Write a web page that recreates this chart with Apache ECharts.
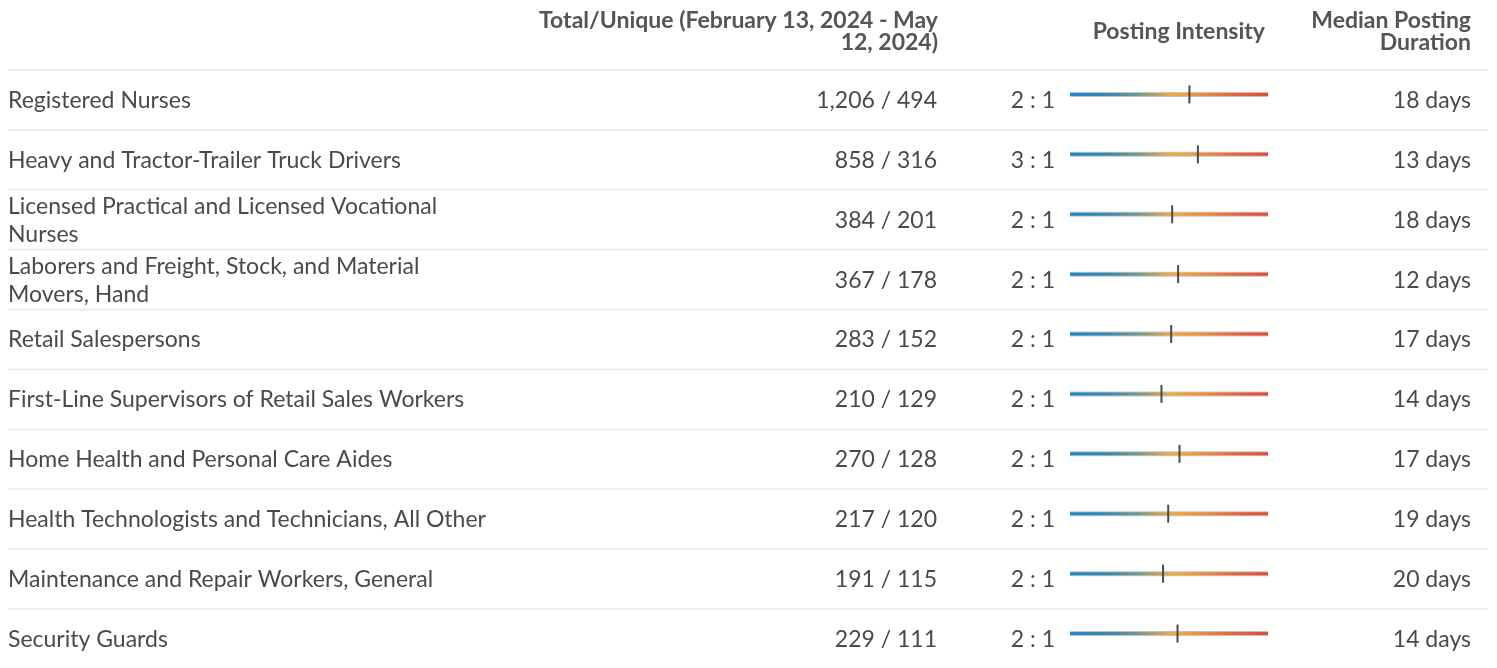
<!DOCTYPE html>
<html><head><meta charset="utf-8">
<script src="https://cdn.jsdelivr.net/npm/echarts@6/dist/echarts.min.js"></script>
<style>html,body{margin:0;padding:0;background:#fff}#c{width:1497px;height:668px}</style>
</head><body><div id="c"></div>
<script>
const occupations = [
  'Registered Nurses',
  'Heavy and Tractor-Trailer Truck Drivers',
  'Licensed Practical and Licensed Vocational Nurses',
  'Laborers and Freight, Stock, and Material Movers, Hand',
  'Retail Salespersons',
  'First-Line Supervisors of Retail Sales Workers',
  'Home Health and Personal Care Aides',
  'Health Technologists and Technicians, All Other',
  'Maintenance and Repair Workers, General',
  'Security Guards'
];
const totalPostings = [1206, 858, 384, 367, 283, 210, 270, 217, 191, 229];
const uniquePostings = [494, 316, 201, 178, 152, 129, 128, 120, 115, 111];
const intensityLabels = ['2 : 1', '3 : 1', '2 : 1', '2 : 1', '2 : 1', '2 : 1', '2 : 1', '2 : 1', '2 : 1', '2 : 1'];
const intensityMarker = [60.3, 64.6, 51.6, 54.6, 51.1, 46.2, 55.3, 49.6, 47.0, 54.3];
const medianDurationDays = [18, 13, 18, 12, 17, 14, 17, 19, 20, 14];
const headers = ['Total/Unique (February 13, 2024 - May\n12, 2024)', 'Posting Intensity', 'Median Posting\nDuration'];

const FONT = 'Lato, "Noto Sans", sans-serif';
const TXT = '#4a4a4a';
const chart = echarts.init(document.getElementById('c'), null, {renderer: 'canvas'});
const fmt = n => n.toLocaleString('en-US');

const grad = () => new echarts.graphic.LinearGradient(0, 0, 1, 0, [
  {offset: 0, color: '#1a88cc'},
  {offset: 0.2, color: '#3589b4'},
  {offset: 0.35, color: '#779a86'},
  {offset: 0.52, color: '#f5ab3a'},
  {offset: 0.68, color: '#f08a3a'},
  {offset: 0.85, color: '#e8603a'},
  {offset: 1, color: '#e04c38'}
]);

function renderItem(params, api) {
  const i = params.dataIndex;
  const l = api.coord([0, i]);
  const r = api.coord([100, i]);
  const m = api.coord([api.value(0), i]);
  const h = api.size([0, 1])[1];
  const cy = l[1];
  const ty = cy + 1.5;
  const ly = cy - 4.5;
  const top = cy - h / 2;
  const ts = (o) => Object.assign({fontFamily: FONT, fontSize: 23, fill: TXT, verticalAlign: 'middle'}, o);
  return {
    type: 'group',
    children: [
      {type: 'rect', shape: {x: 8, y: top, width: 1480, height: 2}, style: {fill: '#ececec'}},
      {type: 'text', x: 8, y: ty, style: ts({text: occupations[i], align: 'left', width: 490, overflow: 'break', lineHeight: 28})},
      {type: 'text', x: 937, y: ty, style: ts({text: fmt(totalPostings[i]) + ' / ' + fmt(uniquePostings[i]), align: 'right'})},
      {type: 'text', x: 1055, y: ty, style: ts({text: intensityLabels[i], align: 'right'})},
      {type: 'rect', shape: {x: l[0], y: ly - 2.5, width: r[0] - l[0], height: 5}, style: {fill: '#c4c4c4'}},
      {type: 'rect', shape: {x: l[0], y: ly - 1.5, width: r[0] - l[0], height: 3}, style: {fill: grad()}},
      {type: 'rect', shape: {x: m[0] - 1, y: ly - 9, width: 2, height: 18}, style: {fill: '#4a4a4a'}},
      {type: 'text', x: 1471, y: ty, style: ts({text: medianDurationDays[i] + ' days', align: 'right'})}
    ]
  };
}

const hs = (o) => Object.assign({fontFamily: FONT, fontSize: 23, fontWeight: 'bold', fill: '#555555', align: 'right', verticalAlign: 'middle', lineHeight: 22}, o);

chart.setOption({
  animation: false,
  grid: {left: 1070, width: 198, top: 69, height: 603},
  xAxis: {type: 'value', min: 0, max: 100, show: false},
  yAxis: {type: 'category', data: occupations, inverse: true, show: false},
  graphic: [
    {type: 'text', x: 938, y: 32, style: hs({text: headers[0]})},
    {type: 'text', x: 1265, y: 32, style: hs({text: headers[1]})},
    {type: 'text', x: 1471, y: 32, style: hs({text: headers[2]})}
  ],
  series: [{
    type: 'custom',
    renderItem: renderItem,
    clip: false,
    encode: {x: 0, y: 1},
    data: intensityMarker.map((v, i) => [v, i])
  }]
});
</script></body></html>
